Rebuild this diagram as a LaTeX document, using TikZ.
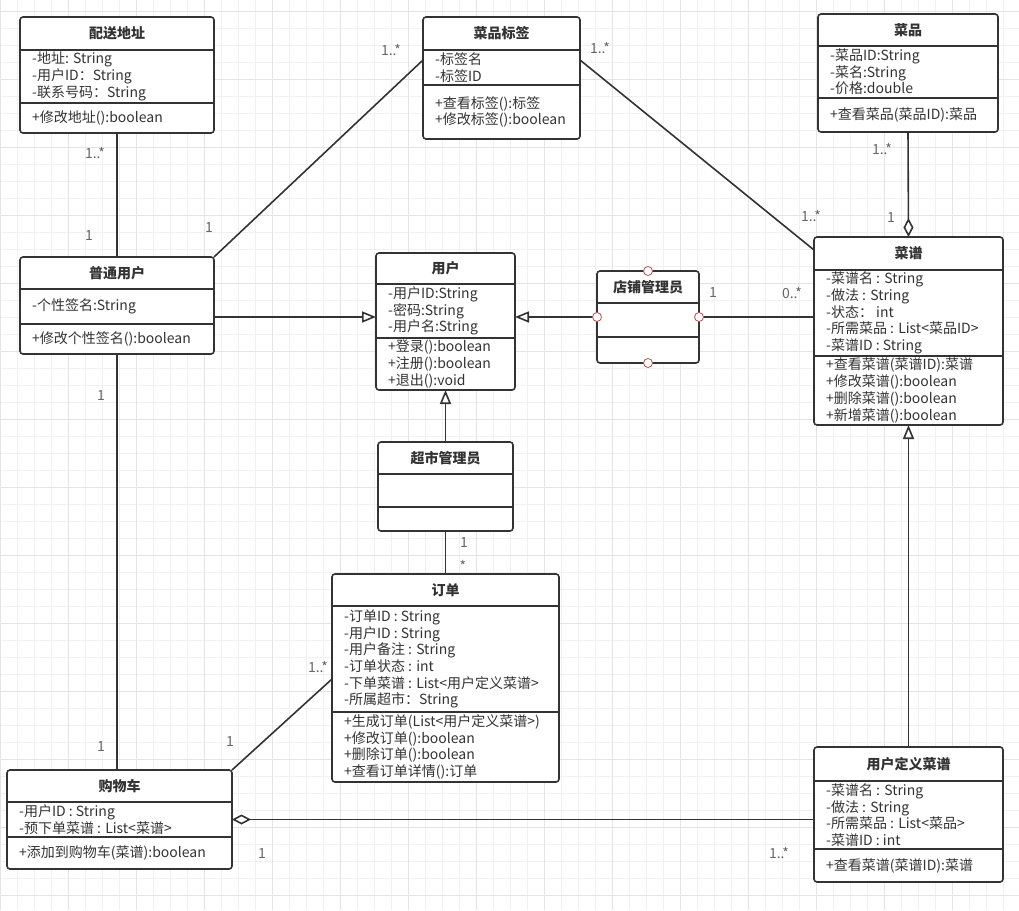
\documentclass[tikz,border=0pt]{standalone}
\usepackage{fontspec}
\setmainfont{Noto Sans CJK SC}
\usetikzlibrary{arrows.meta,positioning}
\definecolor{uink}{HTML}{333333}
\definecolor{ulabel}{HTML}{666666}
\definecolor{uport}{HTML}{B85450}
\definecolor{ugridminor}{HTML}{F1F1F1}
\definecolor{ugridmajor}{HTML}{E4E4E4}
% class box: id, top-left, width, title/attr/method heights, title, attributes, methods
\newcommand{\umlclass}[9]{%
  \node[classframe,minimum width=#3,minimum height=#4+#5+#6,anchor=north west] (#1) at (#2) {};
  \node[classtitle] (#1-t) at ([yshift=-#4/2]#1.north) {#7};
  \draw[classline] ([yshift=-#4]#1.north west) -- ([yshift=-#4]#1.north east);
  \draw[classline] ([yshift=-#4-#5]#1.north west) -- ([yshift=-#4-#5]#1.north east);
  \node[classtext] (#1-a) at ([xshift=12,yshift=-#4-#5/2]#1.north west) {#8};
  \node[classtext] (#1-m) at ([xshift=12,yshift=-#4-#5-#6/2]#1.north west) {#9};
}

\begin{document}
\begin{tikzpicture}[x=1pt,y=-1pt, classframe/.style={draw=uink,fill=white,line width=1.6pt,rounded corners=3pt,outer sep=0pt,inner sep=0pt}, classline/.style={uink,line width=1.6pt}, classtitle/.style={font=\fontsize{14}{17}\selectfont\bfseries,text=uink,inner sep=0pt}, classtext/.style={font=\fontsize{14}{16.7}\selectfont,text=uink,anchor=west,align=left,inner sep=0pt}, mult/.style={font=\fontsize{14}{16}\selectfont,text=ulabel,inner sep=1pt}, assoc/.style={uink,line width=1.6pt}, inherit/.style={assoc,-{Triangle[open,length=14pt,width=11pt]}}, aggr/.style={assoc,-{Diamond[open,length=19pt,width=10pt]}}, port/.style={draw=uport,fill=white,line width=0.8pt}]
\useasboundingbox[fill=white] (0,0) rectangle (1019,910);
% background grid
\foreach \x in {0,17,...,1019} \draw[ugridminor,line width=0.6pt] (\x,0) -- (\x,910);
\foreach \y in {11,28,...,910} \draw[ugridminor,line width=0.6pt] (0,\y) -- (1019,\y);
\foreach \x in {0,68,...,1019} \draw[ugridmajor,line width=0.7pt] (\x,0) -- (\x,910);
\foreach \y in {11,79,...,910} \draw[ugridmajor,line width=0.7pt] (0,\y) -- (1019,\y);

% classes
\umlclass{peisong}{20,17}{194}{33}{53}{30}{配送地址}{-地址: String\\-用户ID：String\\-联系号码：String}{+修改地址():boolean}
\umlclass{biaoqian}{423,17}{157}{33}{35}{54}{菜品标签}{-标签名\\-标签ID}{+查看标签():标签\\+修改标签():boolean}
\umlclass{caipin}{818,14}{180}{32}{52}{34}{菜品}{-菜品ID:String\\-菜名:String\\-价格:double}{+查看菜品(菜品ID):菜品}
\umlclass{putong}{20,257}{194}{32}{35}{30}{普通用户}{-个性签名:String}{+修改个性签名():boolean}
\umlclass{yonghu}{376,253}{139}{31}{54}{52}{用户}{-用户ID:String\\-密码:String\\-用户名:String}{+登录():boolean\\+注册():boolean\\+退出():void}
\umlclass{dianpu}{597,271}{102}{32}{34}{26}{店铺管理员}{}{}
\umlclass{caipu}{814,237}{189}{33}{86}{69}{菜谱}{-菜谱名 : String\\-做法 : String\\-状态： int\\-所需菜品 : List<菜品ID>\\-菜谱ID : String}{+查看菜谱(菜谱ID):菜谱\\+修改菜谱():boolean\\+删除菜谱():boolean\\+新增菜谱():boolean}
\umlclass{chaoshi}{378,442}{135}{32}{33}{24}{超市管理员}{}{}
\umlclass{dingdan}{332,574}{227}{32}{106}{70}{订单}{-订单ID : String\\-用户ID : String\\-用户备注 : String\\-订单状态 : int\\-下单菜谱 : List<用户定义菜谱>\\-所属超市：String}{+生成订单(List<用户定义菜谱>)\\+修改订单():boolean\\+删除订单():boolean\\+查看订单详情():订单}
\umlclass{gouwu}{7,770}{225}{32}{35}{32}{购物车}{-用户ID : String\\-预下单菜谱 : List<菜谱>}{+添加到购物车(菜谱):boolean}
\umlclass{zidingyi}{814,747}{189}{34}{68}{33}{用户定义菜谱}{-菜谱名 : String\\-做法 : String\\-所需菜品 : List<菜品>\\-菜谱ID : int}{+查看菜谱(菜谱ID):菜谱}

% connectors
\coordinate (genline) at (0,317);
\draw[assoc] (peisong.south) -- (putong.north);
\draw[assoc] (putong.north east) -- ([yshift=-43]biaoqian.north west);
\draw[assoc] ([yshift=-43]biaoqian.north east) -- ([yshift=-13]caipu.north west);
\draw[aggr] (caipin.south) -- (caipu.north);
\draw[inherit] (putong.east |- genline) -- (yonghu.west |- genline);
\draw[inherit] (dianpu.west) -- (yonghu.east |- dianpu.west);
\draw[inherit] (chaoshi.north) -- (yonghu.south);
\draw[inherit] (zidingyi.north) -- (caipu.south);
\draw[assoc] (dianpu.east) -- (caipu.west |- dianpu.east);
\draw[assoc] (chaoshi.south) -- (dingdan.north);
\draw[assoc] (putong.south) -- (putong.south |- gouwu.north);
\draw[assoc] ([yshift=-105]dingdan.north west) -- (gouwu.north east);
\draw[aggr] (zidingyi.west |- gouwu.east) -- (gouwu.east);
\foreach \a in {north,south,east,west} \draw[port] (dianpu.\a) circle (4.5);

% multiplicities
\node[mult] (m1) at (95,153) {1..*};
\node[mult] (m2) at (89,236) {1};
\node[mult] (m3) at (391,50) {1..*};
\node[mult] (m4) at (209,228) {1};
\node[mult] (m5) at (600,48) {1..*};
\node[mult] (m6) at (811,216) {1..*};
\node[mult] (m7) at (882,149) {1..*};
\node[mult] (m8) at (891,218) {1};
\node[mult] (m9) at (713,293) {1};
\node[mult] (m10) at (792,293) {0..*};
\node[mult] (m11) at (464,543) {1};
\node[mult] (m12) at (463,566) {*};
\node[mult] (m13) at (101,396) {1};
\node[mult] (m14) at (101,746) {1};
\node[mult] (m15) at (318,667) {1..*};
\node[mult] (m16) at (230,741) {1};
\node[mult] (m17) at (262,853) {1};
\node[mult] (m18) at (779,853) {1..*};
\end{tikzpicture}
\end{document}
